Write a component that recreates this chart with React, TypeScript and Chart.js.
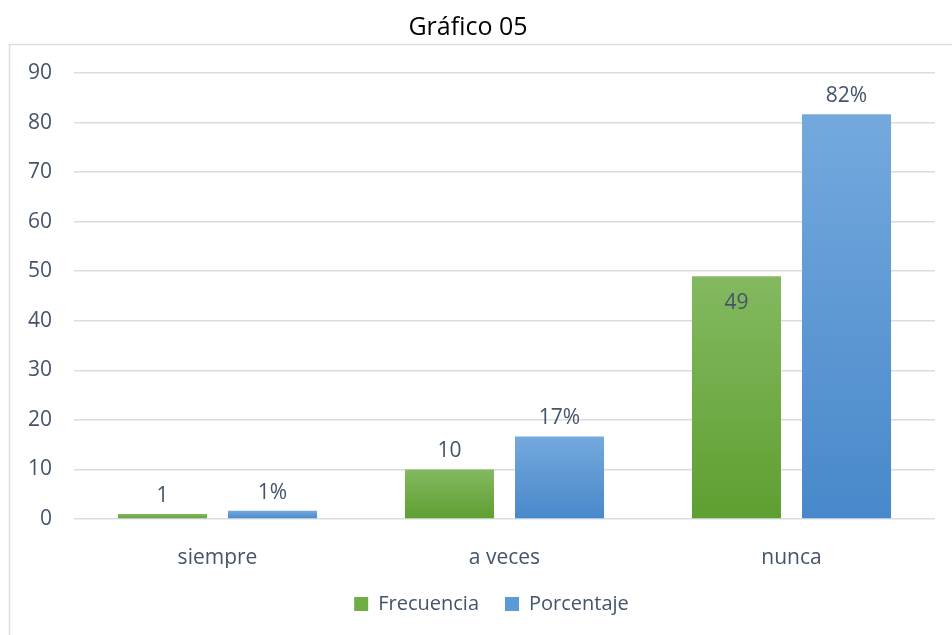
import React, { useEffect, useRef } from "react";
import { Chart, registerables } from "chart.js";

Chart.register(...registerables);

const categories = ["siempre", "a veces", "nunca"];
const frecuencia = [1, 10, 49];
const porcentaje = [1.67, 16.67, 81.67];
const frecuenciaLabels = ["1", "10", "49"];
const porcentajeLabels = ["1%", "17%", "82%"];
const yTicks = [0, 10, 20, 30, 40, 50, 60, 70, 80, 90];

const FONT = "'Open Sans', 'Noto Sans', sans-serif";
const TEXT = "#44546A";
const GREEN_TOP = "#84B960";
const GREEN_BOTTOM = "#5E9F31";
const BLUE_TOP = "#74A9DD";
const BLUE_BOTTOM = "#4888CA";

function gradientFill(top: string, bottom: string, solid: string) {
  return (ctx: any) => {
    const chart = ctx.chart;
    if (!chart.chartArea || ctx.raw === undefined) return solid;
    const y = chart.scales.y;
    const yTop = y.getPixelForValue(ctx.raw);
    const yBot = y.getPixelForValue(0);
    if (!isFinite(yTop) || !isFinite(yBot) || yTop === yBot) return solid;
    const g = chart.ctx.createLinearGradient(0, yTop, 0, yBot);
    g.addColorStop(0, top);
    g.addColorStop(1, bottom);
    return g;
  };
}

const borderPlugin = {
  id: "outerBorder",
  beforeDraw(chart: any) {
    const c = chart.ctx;
    c.save();
    c.fillStyle = "#ffffff";
    c.fillRect(0, 0, chart.width, chart.height);
    c.strokeStyle = "#D9DDE3";
    c.lineWidth = 1.5;
    c.strokeRect(9.5, 44.5, chart.width + 20, chart.height + 20);
    c.restore();
  },
};

const shiftPlugin = {
  id: "shiftBoxes",
  afterLayout(chart: any) {
    if (chart.legend) {
      chart.legend.left += 19.5;
      chart.legend.right += 19.5;
    }
    if (chart.titleBlock) {
      chart.titleBlock.left -= 4;
      chart.titleBlock.right -= 4;
    }
  },
};

const labelsPlugin = {
  id: "barLabels",
  afterDatasetsDraw(chart: any) {
    const c = chart.ctx;
    c.save();
    c.font = `21px ${FONT}`;
    c.fillStyle = TEXT;
    c.textAlign = "center";
    c.textBaseline = "middle";
    const sets = [frecuenciaLabels, porcentajeLabels];
    chart.data.datasets.forEach((ds: any, di: number) => {
      const meta = chart.getDatasetMeta(di);
      meta.data.forEach((bar: any, i: number) => {
        const text = sets[di][i];
        const inside = di === 0 && i === 2;
        const y = inside ? bar.y + 27 : bar.y - 18;
        c.fillText(text, bar.x, y);
      });
    });
    c.restore();
  },
};

export default function App() {
  const ref = useRef<HTMLCanvasElement>(null);

  useEffect(() => {
    if (!ref.current) return;
    const chart = new Chart(ref.current, {
      type: "bar",
      data: {
        labels: categories,
        datasets: [
          {
            label: "Frecuencia",
            data: frecuencia,
            backgroundColor: gradientFill(GREEN_TOP, GREEN_BOTTOM, "#70AD47"),
            categoryPercentage: 0.767,
            barPercentage: 0.809,
          },
          {
            label: "Porcentaje",
            data: porcentaje,
            backgroundColor: gradientFill(BLUE_TOP, BLUE_BOTTOM, "#5B9BD5"),
            categoryPercentage: 0.767,
            barPercentage: 0.809,
          },
        ],
      },
      options: {
        responsive: false,
        animation: false,
        layout: { padding: { left: 9, right: 17, top: 0, bottom: 11 } },
        plugins: {
          title: {
            display: true,
            text: "Gráfico 05",
            color: "#000000",
            font: { family: FONT, size: 25, weight: "normal" },
            padding: { top: 13, bottom: 30 },
          },
          legend: {
            position: "bottom",
            labels: {
              color: TEXT,
              font: { family: FONT, size: 20 },
              boxWidth: 14,
              boxHeight: 14,
              padding: 26,
              generateLabels: () => [
                { text: "Frecuencia", fillStyle: "#70AD47", strokeStyle: "#70AD47", lineWidth: 0, datasetIndex: 0, fontColor: TEXT },
                { text: "Porcentaje", fillStyle: "#5B9BD5", strokeStyle: "#5B9BD5", lineWidth: 0, datasetIndex: 1, fontColor: TEXT },
              ] as any,
            },
          },
          tooltip: { enabled: false },
        },
        scales: {
          x: {
            grid: { display: false },
            border: { display: false },
            ticks: { color: TEXT, font: { family: FONT, size: 21 }, padding: 18 },
            afterFit: (s: any) => {
              s.height = 49;
            },
          },
          y: {
            min: 0,
            max: 90,
            afterBuildTicks: (s: any) => {
              s.ticks = yTicks.map((v) => ({ value: v }));
            },
            grid: { color: "#D9DDE3", lineWidth: 1.5, drawTicks: false },
            border: { display: false },
            ticks: { color: TEXT, font: { family: FONT, size: 21 }, padding: 22 },
            afterFit: (s: any) => {
              s.width = 65;
            },
          },
        },
      },
      plugins: [borderPlugin, shiftPlugin, labelsPlugin],
    });
    return () => chart.destroy();
  }, []);

  return (
    <div style={{ position: "absolute", left: 0, top: 0, width: 952, height: 635 }}>
      <canvas ref={ref} width={952} height={635} />
    </div>
  );
}
